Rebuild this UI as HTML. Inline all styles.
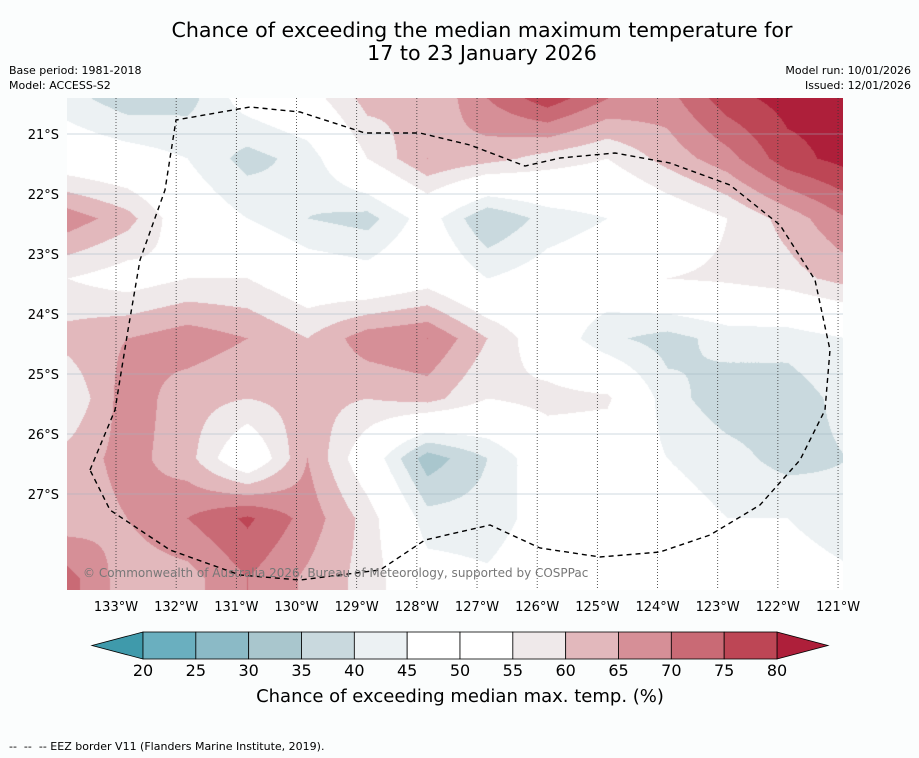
<!DOCTYPE html>
<html><head><meta charset="utf-8"><style>
body{margin:0;background:#fbfdfd;font-family:"DejaVu Sans","Liberation Sans",sans-serif;}
#wrap{position:relative;width:919px;height:758px;overflow:hidden;background:#fbfdfd;}
.t{position:absolute;white-space:nowrap;color:#000;}
</style></head><body>
<div id="wrap">
<div class="t" style="left:0;width:964px;top:19px;text-align:center;font-size:20.6px;line-height:23px;">Chance of exceeding the median maximum temperature for<br>17 to 23 January 2026</div>
<div class="t" style="left:9px;top:63px;font-size:11px;line-height:15px;">Base period: 1981-2018<br>Model: ACCESS-S2</div>
<div class="t" style="right:8px;top:63px;font-size:11px;line-height:15px;text-align:right;">Model run: 10/01/2026<br>Issued: 12/01/2026</div>
<canvas id="map" width="776" height="492" style="position:absolute;left:67px;top:98px;"></canvas>
<svg id="ov" width="919" height="758" style="position:absolute;left:0;top:0;"></svg>
<div class="t" style="left:83px;top:566px;font-size:12px;color:#777;">© Commonwealth of Australia 2026, Bureau of Meteorology, supported by COSPPac</div>
<div class="t" style="left:0;width:920px;text-align:center;top:686px;font-size:18px;">Chance of exceeding median max. temp. (%)</div>
<div class="t" style="left:9px;top:740px;font-size:11px;">-- &nbsp;-- &nbsp;-- EEZ border V11 (Flanders Marine Institute, 2019).</div>
</div>
<script>
const lonTicks=["133°W","132°W","131°W","130°W","129°W","128°W","127°W","126°W","125°W","124°W","123°W","122°W","121°W"];
const latTicks=["21°S","22°S","23°S","24°S","25°S","26°S","27°S"];
const cbTicks=[20,25,30,35,40,45,50,55,60,65,70,75,80];
const binColors=["#3f9aab","#6aafbf","#8bbac6","#a9c6cd","#c9d9de","#ecf1f3","#ffffff","#ffffff","#efe9ea","#e2b8bc","#d68f97","#c96a75","#bd4655","#ae1f3a"];
const gridRow0=[42,37,38,48,52,62,60,70,78,70,68,78,82,82];
const gridRow1=[50,48,45,38,42,55,65,62,58,55,62,68,78,82];
const gridRow2=[68,62,50,45,40,38,48,35,42,45,50,55,62,70];
const gridRow3=[55,52,55,55,50,48,52,45,48,50,55,56,58,62];
const gridRow4=[62,65,68,65,60,68,70,60,50,41,38,42,42,45];
const gridRow5=[55,68,62,60,62,60,62,55,57,56,42,37,37,42];
const gridRow6=[62,67,62,48,65,50,32,40,50,50,45,42,38,40];
const gridRow7=[62,65,70,76,68,58,42,42,48,52,48,45,45,42];
const gridRow8=[72,62,63,70,64,58,48,46,50,50,50,48,48,46];
const grid=[gridRow0,gridRow1,gridRow2,gridRow3,gridRow4,gridRow5,gridRow6,gridRow7,gridRow8];
const NS="http://www.w3.org/2000/svg";
const ov=document.getElementById('ov');
const mx0=67,my0=98,mw=776,mh=492,cell=60;
function lonX(i){return 116+i*60.17;}
function latY(i){return 134+i*60;}
function bin(v){let b=Math.floor((v-15)/5);return Math.max(0,Math.min(13,b));}
function hex(h){return[parseInt(h.substr(1,2),16),parseInt(h.substr(3,2),16),parseInt(h.substr(5,2),16)];}
const rgb=binColors.map(hex);
const cv=document.getElementById('map');const ctx=cv.getContext('2d');
const img=ctx.createImageData(mw,mh);
for(let y=0;y<mh;y++){for(let x=0;x<mw;x++){
 let gx=x/cell,gy=y/cell;let i=Math.min(Math.floor(gx),12),j=Math.min(Math.floor(gy),7);
 let fx=gx-i,fy=gy-j;if(fy>1)fy=1;
 let v=grid[j][i]*(1-fx)*(1-fy)+grid[j][i+1]*fx*(1-fy)+grid[j+1][i]*(1-fx)*fy+grid[j+1][i+1]*fx*fy;
 let c=rgb[bin(v)];let k=(y*mw+x)*4;img.data[k]=c[0];img.data[k+1]=c[1];img.data[k+2]=c[2];img.data[k+3]=255;}}
ctx.putImageData(img,0,0);
function el(t,a,txt){const e=document.createElementNS(NS,t);for(const k in a)e.setAttribute(k,a[k]);if(txt!==undefined)e.textContent=txt;ov.appendChild(e);return e;}
latTicks.forEach((l,i)=>{const y=latY(i);
 const g=el('line',{x1:mx0,x2:mx0+mw,y1:y,y2:y,stroke:'#9fb2c0','stroke-width':0.5});
 
 
 const t=el('text',{x:59,y:y+5,'font-size':13,'text-anchor':'end','font-family':'DejaVu Sans'},l);
 
 });
lonTicks.forEach((l,i)=>{const x=lonX(i);
 const g=el('line',{x1:x,x2:x,y1:my0,y2:my0+mh,stroke:'#333','stroke-width':0.8,'stroke-dasharray':'1,2'});
 
 
 const t=el('text',{x:x,y:611,'font-size':13,'text-anchor':'middle','font-family':'DejaVu Sans'},l);
 
 });
const eez=el('path',{d:'M90,470 L115,410 L128,330 L140,260 L165,190 L176,120 L250,107 L300,112 L365,133 L420,133 L470,145 L525,166 L560,158 L615,153 L670,163 L730,185 L780,225 L815,280 L830,350 L825,410 L800,460 L760,505 L710,535 L660,552 L600,557 L540,548 L490,525 L425,540 L380,570 L300,580 L240,575 L170,550 L110,510 Z',fill:'none',stroke:'#000','stroke-width':1.4,'stroke-dasharray':'5,4'});


const cbx0=143,cbx1=777,cby=632,cbh=27,bw=(cbx1-cbx0)/12;
const lt=el('polygon',{points:`${cbx0},${cby} ${cbx0},${cby+cbh} 92,${cby+cbh/2}`,fill:binColors[0],stroke:'#000','stroke-width':0.8});


const rt=el('polygon',{points:`${cbx1},${cby} ${cbx1},${cby+cbh} 828,${cby+cbh/2}`,fill:binColors[13],stroke:'#000','stroke-width':0.8});


for(let i=0;i<12;i++){const r=el('rect',{x:cbx0+i*bw,y:cby,width:bw,height:cbh,fill:binColors[i+1],stroke:'#000','stroke-width':0.8});
 
 }
cbTicks.forEach((v,i)=>{const t=el('text',{x:cbx0+i*bw,y:676,'font-size':16,'text-anchor':'middle','font-family':'DejaVu Sans'},v);
 
 });
</script>
</body></html>
